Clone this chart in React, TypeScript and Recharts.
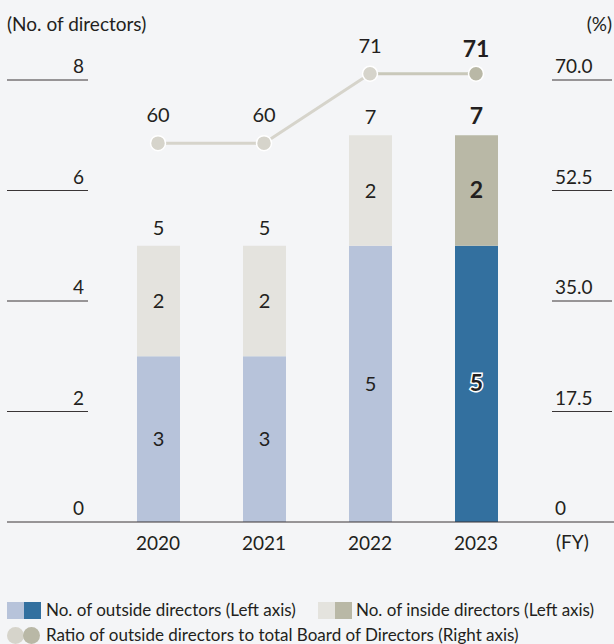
import React from "react";
import { ComposedChart, Bar, Line, XAxis, YAxis, LabelList, Cell } from "recharts";

const years = ["2020", "2021", "2022", "2023"];
const outside = [3, 3, 5, 5];
const inside = [2, 2, 2, 2];
const ratio = [60, 60, 71, 71];
const leftTicks = [0, 2, 4, 6, 8];
const rightTicks = [0, 17.5, 35, 52.5, 70];

const FONT = "Lato, 'Noto Sans', sans-serif";
const TXT = "#231f20";
const LAST = years.length - 1;

// plot runs from y=40 to y=522; the top ticks (8 / 70.0) sit at y=80
const PLOT_TOP = 40;
const stretch = (522 - PLOT_TOP) / 442;

const outsideColor = (i: number) => (i === LAST ? "#33709f" : "#b7c3da");
const insideColor = (i: number) => (i === LAST ? "#b9b8a6" : "#e4e3de");

const data = years.map((y, i) => ({
  year: y,
  outside: outside[i],
  inside: inside[i],
  total: outside[i] + inside[i],
  ratioA: i < LAST ? ratio[i] : null,
  ratioB: i >= LAST - 1 ? ratio[i] : null,
}));

function LeftTick(props: any) {
  const { y, payload } = props;
  const v = payload.value;
  return (
    <g>
      <line x1={7} x2={v === 0 ? 614 : 88} y1={y} y2={y} stroke="#3a3536" strokeWidth={1} />
      <text x={84} y={y - 7} textAnchor="end" fill={TXT} fontSize={19} fontFamily={FONT}>
        {v}
      </text>
    </g>
  );
}

function RightTick(props: any) {
  const { y, payload } = props;
  const v = payload.value;
  return (
    <g>
      {v !== 0 && <line x1={552} x2={612} y1={y} y2={y} stroke="#3a3536" strokeWidth={1} />}
      <text x={555} y={y - 7} textAnchor="start" fill={TXT} fontSize={19} fontFamily={FONT}>
        {v === 0 ? "0" : v.toFixed(1)}
      </text>
    </g>
  );
}

function XTick(props: any) {
  const { x, y, payload } = props;
  return (
    <text x={x} y={y + 20} textAnchor="middle" fill={TXT} fontSize={19} fontFamily={FONT}>
      {payload.value}
    </text>
  );
}

function InLabel(props: any) {
  const { x, y, width, height, value, index } = props;
  const last = index === LAST;
  return (
    <text
      x={x + width / 2}
      y={y + height / 2 + 7}
      textAnchor="middle"
      fill={TXT}
      fontSize={last ? 23 : 20}
      fontWeight={last ? 700 : 400}
      fontFamily={FONT}
      stroke={last && props.halo ? "#fff" : "none"}
      strokeWidth={3}
      paintOrder="stroke"
    >
      {value}
    </text>
  );
}

function TotalLabel(props: any) {
  const { x, y, width, index } = props;
  const last = index === LAST;
  return (
    <text
      x={x + width / 2}
      y={y - 11}
      textAnchor="middle"
      fill={TXT}
      fontSize={last ? 23 : 20}
      fontWeight={last ? 700 : 400}
      fontFamily={FONT}
    >
      {data[index].total}
    </text>
  );
}

function DotA(props: any) {
  const { cx, cy, index } = props;
  if (cy == null || index === LAST) return <g key={index} />;
  return <circle key={index} cx={cx} cy={cy} r={7.5} fill="#d6d4cb" stroke="#fff" strokeWidth={1.5} />;
}

function DotB(props: any) {
  const { cx, cy, index } = props;
  if (cy == null || index !== LAST) return <g key={index} />;
  return <circle key={index} cx={cx} cy={cy} r={7.5} fill="#b9b8a6" stroke="#fff" strokeWidth={1.5} />;
}

function RatioLabel(props: any) {
  const { x, y, value, index } = props;
  if (value == null) return null;
  const last = index === LAST;
  if (props.series === "A" && last) return null;
  if (props.series === "B" && !last) return null;
  return (
    <text
      x={x}
      y={y - (last ? 17 : 21)}
      textAnchor="middle"
      fill={TXT}
      fontSize={last ? 23 : 20}
      fontWeight={last ? 700 : 400}
      fontFamily={FONT}
    >
      {value}
    </text>
  );
}

const legendText: React.CSSProperties = { fontSize: 17, color: TXT, whiteSpace: "nowrap", lineHeight: "18px" };
const sq = (bg: string, extra: React.CSSProperties = {}): React.CSSProperties => ({
  width: 17,
  height: 17,
  background: bg,
  display: "inline-block",
  flex: "none",
  ...extra,
});

export default function App() {
  return (
    <div
      style={{
        position: "absolute",
        left: 0,
        top: 0,
        width: 614,
        height: 644,
        background: "#f4f5f7",
        fontFamily: FONT,
        overflow: "hidden",
      }}
    >
      <div style={{ position: "absolute", left: 7, top: 12, fontSize: 19, color: TXT }}>(No. of directors)</div>
      <div style={{ position: "absolute", right: 2, top: 12, fontSize: 19, color: TXT }}>(%)</div>
      <div style={{ position: "absolute", left: 556, top: 530, fontSize: 19, color: TXT }}>(FY)</div>
      <div style={{ position: "absolute", left: 0, top: 0 }}>
        <ComposedChart
          width={614}
          height={590}
          data={data}
          margin={{ top: PLOT_TOP, right: 0, bottom: 0, left: 0 }}
        >
          <XAxis dataKey="year" axisLine={false} tickLine={false} height={68} tick={<XTick />} interval={0} />
          <YAxis
            yAxisId="l"
            domain={[0, 8 * stretch]}
            ticks={leftTicks}
            width={105}
            axisLine={false}
            tickLine={false}
            tick={<LeftTick />}
            interval={0}
          />
          <YAxis
            yAxisId="r"
            orientation="right"
            domain={[0, 70 * stretch]}
            ticks={rightTicks}
            width={85}
            axisLine={false}
            tickLine={false}
            tick={<RightTick />}
            interval={0}
          />
          <Bar dataKey="outside" stackId="s" yAxisId="l" barSize={43} isAnimationActive={false}>
            {data.map((d, i) => (
              <Cell key={d.year} fill={outsideColor(i)} />
            ))}
            <LabelList dataKey="outside" content={<InLabel halo />} />
          </Bar>
          <Bar dataKey="inside" stackId="s" yAxisId="l" barSize={43} isAnimationActive={false}>
            {data.map((d, i) => (
              <Cell key={d.year} fill={insideColor(i)} />
            ))}
            <LabelList dataKey="inside" content={<InLabel />} />
            <LabelList dataKey="total" content={<TotalLabel />} />
          </Bar>
          <Line
            yAxisId="r"
            dataKey="ratioA"
            stroke="#d6d4cb"
            strokeWidth={3}
            dot={<DotA />}
            activeDot={false}
            isAnimationActive={false}
          >
            <LabelList dataKey="ratioA" content={<RatioLabel series="A" />} />
          </Line>
          <Line
            yAxisId="r"
            dataKey="ratioB"
            stroke="#c9c8ba"
            strokeWidth={3}
            dot={<DotB />}
            activeDot={false}
            isAnimationActive={false}
          >
            <LabelList dataKey="ratioB" content={<RatioLabel series="B" />} />
          </Line>
        </ComposedChart>
      </div>
      <div style={{ position: "absolute", left: 7, top: 601, display: "flex", alignItems: "center" }}>
        <span style={sq("#b7c3da")} />
        <span style={sq("#33709f")} />
        <span style={{ ...legendText, marginLeft: 5 }}>No. of outside directors (Left axis)</span>
      </div>
      <div style={{ position: "absolute", left: 318, top: 601, display: "flex", alignItems: "center" }}>
        <span style={sq("#e4e3de")} />
        <span style={sq("#b9b8a6")} />
        <span style={{ ...legendText, marginLeft: 4 }}>No. of inside directors (Left axis)</span>
      </div>
      <div style={{ position: "absolute", left: 7, top: 626, display: "flex", alignItems: "center" }}>
        <span style={sq("#d6d4cb", { borderRadius: 9 })} />
        <span style={sq("#b9b8a6", { borderRadius: 9, marginLeft: -1 })} />
        <span style={{ ...legendText, marginLeft: 6 }}>
          Ratio of outside directors to total Board of Directors (Right axis)
        </span>
      </div>
    </div>
  );
}
